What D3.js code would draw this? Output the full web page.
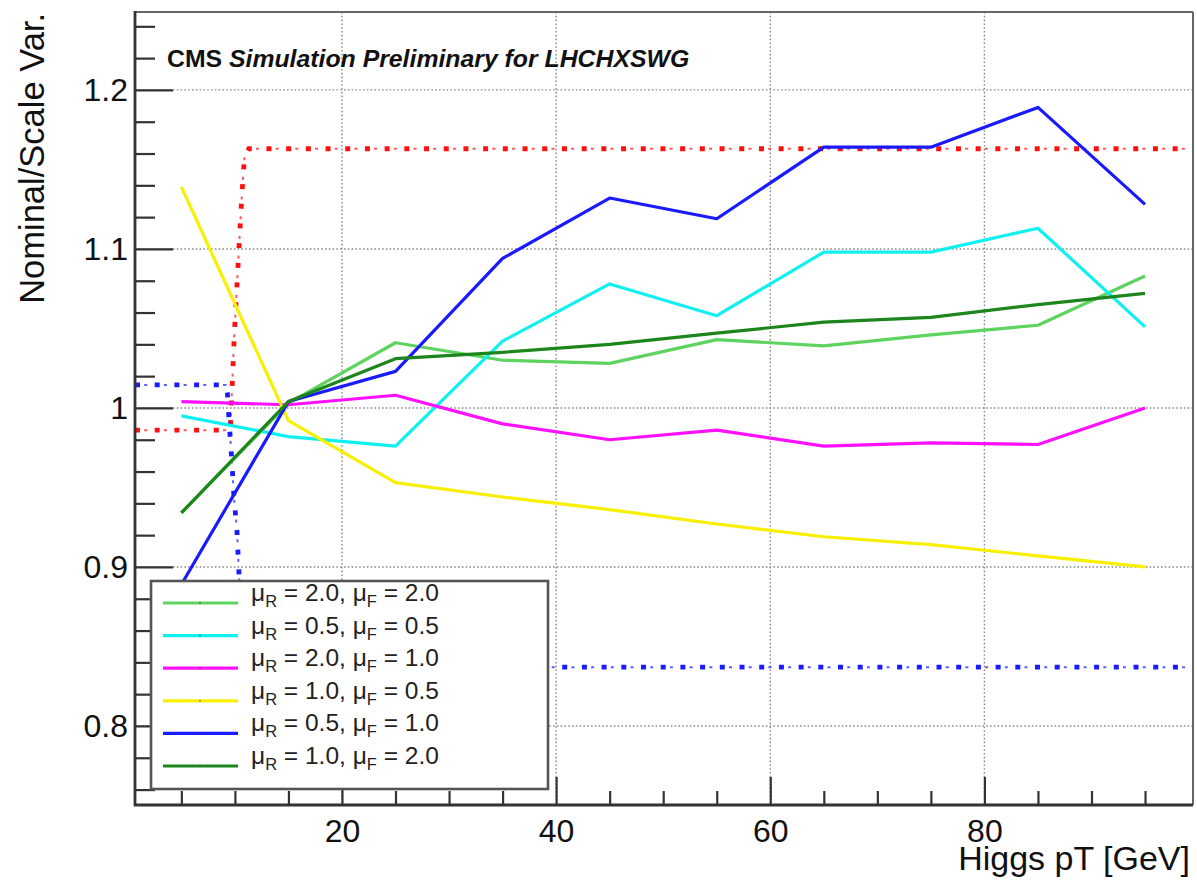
<!DOCTYPE html>
<html>
<head>
<meta charset="utf-8">
<script src="https://cdn.jsdelivr.net/npm/d3@7"></script>
<style>
  html, body { margin: 0; padding: 0; background: #fff; }
  svg { display: block; font-family: "Liberation Sans", Arial, sans-serif; }
</style>
</head>
<body>
<svg id="chart" width="1197" height="881"></svg>
<script>
// Higgs pT bin centres [GeV]
const ptBins = [5, 15, 25, 35, 45, 55, 65, 75, 85, 95];

// Nominal / scale-variation ratios per bin
const muR20muF20 = [0.934, 1.003, 1.041, 1.030, 1.028, 1.043, 1.039, 1.046, 1.052, 1.083];
const muR05muF05 = [0.995, 0.982, 0.976, 1.042, 1.078, 1.058, 1.098, 1.098, 1.113, 1.051];
const muR20muF10 = [1.004, 1.002, 1.008, 0.990, 0.980, 0.986, 0.976, 0.978, 0.977, 1.000];
const muR10muF05 = [1.139, 0.992, 0.953, 0.944, 0.936, 0.927, 0.919, 0.914, 0.907, 0.900];
const muR05muF10 = [0.889, 1.004, 1.023, 1.094, 1.132, 1.119, 1.164, 1.164, 1.189, 1.128];
const muR10muF20 = [0.934, 1.004, 1.031, 1.035, 1.040, 1.047, 1.054, 1.057, 1.065, 1.072];

// Envelope curves (dash-dotted)
const upperEnvX = [0.67, 9.35, 9.6, 9.95, 10.65, 10.9, 11.3, 99.48];
const upperEnvY = [0.986, 0.986, 0.990, 1.047, 1.134, 1.158, 1.163, 1.163];
const lowerEnvX = [0.67, 9.15, 9.3, 9.45, 9.73, 9.91, 10.19, 10.4, 10.8, 11.1, 99.48];
const lowerEnvY = [1.0145, 1.0145, 1.009, 0.9925, 0.965, 0.944, 0.923, 0.893, 0.850, 0.837, 0.837];

// Legend labels: [muR, muF]
const legendMuR = ["2.0", "0.5", "2.0", "1.0", "0.5", "1.0"];
const legendMuF = ["2.0", "0.5", "1.0", "0.5", "1.0", "2.0"];
const seriesColors = ["#5fd35f", "#10f0f0", "#ff10ff", "#f8f000", "#1a1aff", "#1c861c"];
const seriesData = [muR20muF20, muR05muF05, muR20muF10, muR10muF05, muR05muF10, muR10muF20];

// Axis ticks
const xMajorTicks = [20, 40, 60, 80];
const xMinorTicks = [5, 10, 15, 25, 30, 35, 45, 50, 55, 65, 70, 75, 85, 90, 95];
const yMajorTicks = [0.8, 0.9, 1.0, 1.1, 1.2];
const yMinorTicks = [0.76, 0.78, 0.82, 0.84, 0.86, 0.88, 0.92, 0.94, 0.96, 0.98,
                     1.02, 1.04, 1.06, 1.08, 1.12, 1.14, 1.16, 1.18, 1.22, 1.24];
const yTickLabels = ["0.8", "0.9", "1", "1.1", "1.2"];

const L = 135, R = 1193, T = 12, B = 805;
const svg = d3.select("#chart");
svg.append("rect").attr("width", 1197).attr("height", 881).attr("fill", "#fff");

const x = d3.scaleLinear().domain([0.67, 99.48]).range([L, R]);
const y = d3.scaleLinear().domain([0.7503, 1.249]).range([B, T]);

// grid
const grid = svg.append("g").attr("stroke", "#8a8a8a").attr("stroke-width", 1.4)
  .attr("stroke-dasharray", "1.6,2.2");
grid.selectAll("line.v").data(xMajorTicks).join("line").attr("class", "v")
  .attr("x1", d => x(d)).attr("x2", d => x(d)).attr("y1", T).attr("y2", B);
grid.selectAll("line.h").data(yMajorTicks).join("line").attr("class", "h")
  .attr("x1", L).attr("x2", R).attr("y1", d => y(d)).attr("y2", d => y(d));

// axes (ticks drawn inward)
function styleAxis(g) {
  g.select(".domain").remove();
  g.selectAll(".tick line").attr("stroke", "#333").attr("stroke-width", 2.2);
  g.selectAll(".tick text").attr("fill", "#111").attr("font-size", 32);
}
svg.append("g").attr("transform", `translate(${L},0)`)
  .call(d3.axisLeft(y).tickValues(yMinorTicks).tickSize(-20).tickFormat(""))
  .call(styleAxis);
svg.append("g").attr("transform", `translate(${L},0)`)
  .call(d3.axisLeft(y).tickValues(yMajorTicks).tickSize(-38).tickPadding(7)
    .tickFormat((d, i) => yTickLabels[i]))
  .call(styleAxis);
svg.append("g").attr("transform", `translate(0,${B})`)
  .call(d3.axisBottom(x).tickValues(xMinorTicks).tickSize(-14).tickFormat(""))
  .call(styleAxis);
svg.append("g").attr("transform", `translate(0,${B})`)
  .call(d3.axisBottom(x).tickValues(xMajorTicks).tickSize(-28).tickPadding(14)
    .tickFormat(d3.format("d")))
  .call(styleAxis);

// dash-dotted envelopes: large dots plus thin dashes between them
function dashDot(xs, ys, color) {
  const pts = xs.map((v, i) => [v, ys[i]]);
  const line = d3.line().x(d => x(d[0])).y(d => y(d[1]));
  svg.append("path").datum(pts).attr("d", line).attr("fill", "none")
    .attr("stroke", color).attr("stroke-width", 4.8).attr("stroke-dasharray", "5 14.7");
  svg.append("path").datum(pts).attr("d", line).attr("fill", "none")
    .attr("stroke", color).attr("stroke-width", 2).attr("stroke-opacity", 0.7)
    .attr("stroke-dasharray", "3 16.7").attr("stroke-dashoffset", 10.5);
}
dashDot(upperEnvX, upperEnvY, "#ff1010");
dashDot(lowerEnvX, lowerEnvY, "#1a1aff");

// series lines
const line = d3.line().x(d => x(d[0])).y(d => y(d[1]));
seriesData.forEach((vals, i) => {
  svg.append("path").datum(ptBins.map((p, j) => [p, vals[j]]))
    .attr("d", line).attr("fill", "none")
    .attr("stroke", seriesColors[i]).attr("stroke-width", 3.2)
    .attr("stroke-linejoin", "round");
});

// legend
const lg = svg.append("g");
lg.append("rect").attr("x", 151).attr("y", 581).attr("width", 397).attr("height", 208)
  .attr("fill", "#fff").attr("stroke", "#555").attr("stroke-width", 2.6);
legendMuR.forEach((r, i) => {
  const ly = 603 + i * 32.6;
  lg.append("line").attr("x1", 163).attr("x2", 238).attr("y1", ly).attr("y2", ly)
    .attr("stroke", seriesColors[i]).attr("stroke-width", 3.2);
  lg.append("circle").attr("cx", 200).attr("cy", ly).attr("r", 1)
    .attr("fill", "#333").attr("opacity", 0.5);
  const t = lg.append("text").attr("x", 251).attr("y", ly - 2)
    .attr("font-size", 24.5).attr("fill", "#222");
  t.append("tspan").text("μ");
  t.append("tspan").attr("font-size", 16.5).attr("dy", 6).text("R");
  t.append("tspan").attr("dy", -6).text(` = ${r}, μ`);
  t.append("tspan").attr("font-size", 16.5).attr("dy", 6).text("F");
  t.append("tspan").attr("dy", -6).text(` = ${legendMuF[i]}`);
});

// frame
svg.append("line").attr("x1", L).attr("x2", R).attr("y1", T).attr("y2", T)
  .attr("stroke", "#666").attr("stroke-width", 2);
svg.append("line").attr("x1", R).attr("x2", R).attr("y1", T).attr("y2", B)
  .attr("stroke", "#666").attr("stroke-width", 2);
svg.append("line").attr("x1", L).attr("x2", L).attr("y1", T - 1).attr("y2", B + 1)
  .attr("stroke", "#333").attr("stroke-width", 2.8);
svg.append("line").attr("x1", L - 1).attr("x2", R).attr("y1", B).attr("y2", B)
  .attr("stroke", "#333").attr("stroke-width", 2.8);

// labels
const title = svg.append("text").attr("x", 167).attr("y", 67)
  .attr("font-size", 24.8).attr("font-weight", "bold").attr("fill", "#111");
title.append("tspan").text("CMS ");
title.append("tspan").attr("font-style", "italic").text("Simulation Preliminary for LHCHXSWG");

svg.append("text").attr("transform", "translate(44,13) rotate(-90)")
  .attr("text-anchor", "end").attr("font-size", 34.5).attr("fill", "#111")
  .text("Nominal/Scale Var.");

svg.append("text").attr("x", 1190).attr("y", 870).attr("text-anchor", "end")
  .attr("font-size", 34).attr("fill", "#111").text("Higgs pT [GeV]");
</script>
</body>
</html>
